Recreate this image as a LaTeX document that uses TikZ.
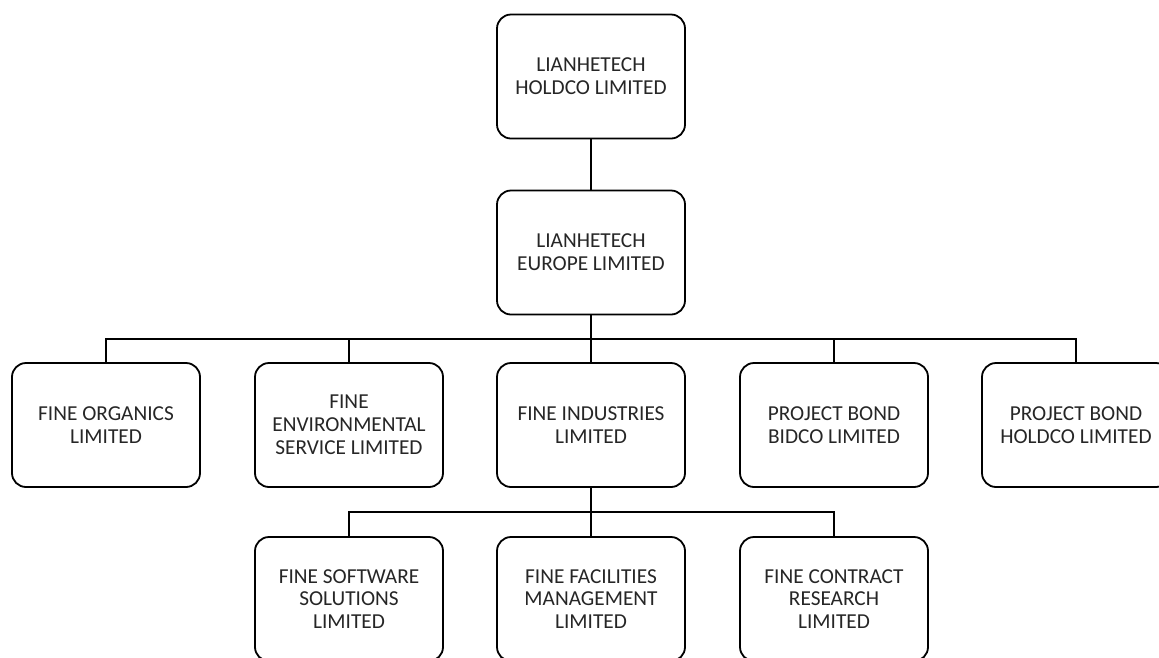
\documentclass[tikz,border=0pt]{standalone}
\usepackage{fontspec}
\setmainfont{Carlito}
\begin{document}
\begin{tikzpicture}[x=1pt,y=-1pt,
  entity/.style={draw=black, line width=1.8pt, rounded corners=14pt, fill=white,
    minimum width=188pt, minimum height=124pt, align=center, inner sep=2pt,
    text=black!85, font=\fontsize{21.3}{22.8}\selectfont},
  link/.style={draw=black, line width=1.8pt}]
\useasboundingbox (0,0) rectangle (1159,657);
\node[entity] (top) at (591,76.5) {LIANHETECH\\HOLDCO LIMITED};
\node[entity] (mid) at (591,252.5) {LIANHETECH\\EUROPE LIMITED};
\node[entity] (r21) at (106,425) {FINE ORGANICS\\LIMITED};
\node[entity] (r22) at (349,425) {FINE\\ENVIRONMENTAL\\SERVICE LIMITED};
\node[entity] (r23) at (591,425) {FINE INDUSTRIES\\LIMITED};
\node[entity] (r24) at (834,425) {PROJECT BOND\\BIDCO LIMITED};
\node[entity] (r25) at (1076,425) {PROJECT BOND\\HOLDCO LIMITED};
\node[entity] (r31) at (349,599) {FINE SOFTWARE\\SOLUTIONS\\LIMITED};
\node[entity] (r32) at (591,599) {FINE FACILITIES\\MANAGEMENT\\LIMITED};
\node[entity] (r33) at (834,599) {FINE CONTRACT\\RESEARCH\\LIMITED};
\coordinate (b1) at (591,339);
\coordinate (b2) at (591,512);
\draw[link] (top.south) -- (mid.north);
\draw[link] (mid.south) -- (r23.north);
\draw[link] (r21.north) |- (b1) -| (r25.north);
\draw[link] (r22.north) -- (r22.north |- b1);
\draw[link] (r24.north) -- (r24.north |- b1);
\draw[link] (r23.south) -- (r32.north);
\draw[link] (r31.north) |- (b2) -| (r33.north);
\end{tikzpicture}
\end{document}
